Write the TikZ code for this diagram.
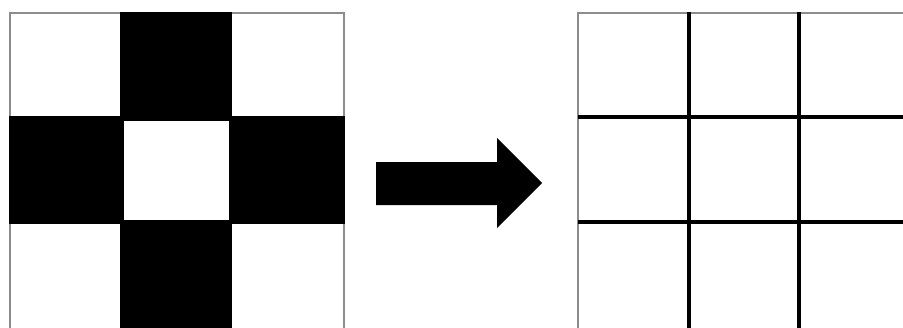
\documentclass[tikz,border=0pt]{standalone}
\begin{document}
\begin{tikzpicture}[x=1pt,y=-1pt,
  thinborder/.style={draw=black!45, line width=1.6pt},
  blackcell/.style={fill=black},
  thickline/.style={draw=black, line width=4pt}]
\useasboundingbox (0,0) rectangle (903,327);
\fill[white] (0,0) rectangle (903,327);
% left grid
\path[thinborder] (10,330) -- (10,13) -- (344,13) -- (344,330);
\fill[blackcell] (120,12) rectangle (232,121);
\fill[blackcell] (9,116) rectangle (124,224);
\fill[blackcell] (229,116) rectangle (345,224);
\fill[blackcell] (120,220) rectangle (232,330);
% arrow
\fill[black] (376,162) -- (497,162) -- (497,138) -- (542,183) -- (497,228) -- (497,205) -- (376,205) -- cycle;
% right grid
\path[thinborder] (578,330) -- (578,13) -- (905,13);
\path[thickline] (689,12) -- (689,330);
\path[thickline] (799,12) -- (799,330);
\path[thickline] (578,117) -- (905,117);
\path[thickline] (578,222) -- (905,222);
\end{tikzpicture}
\end{document}
